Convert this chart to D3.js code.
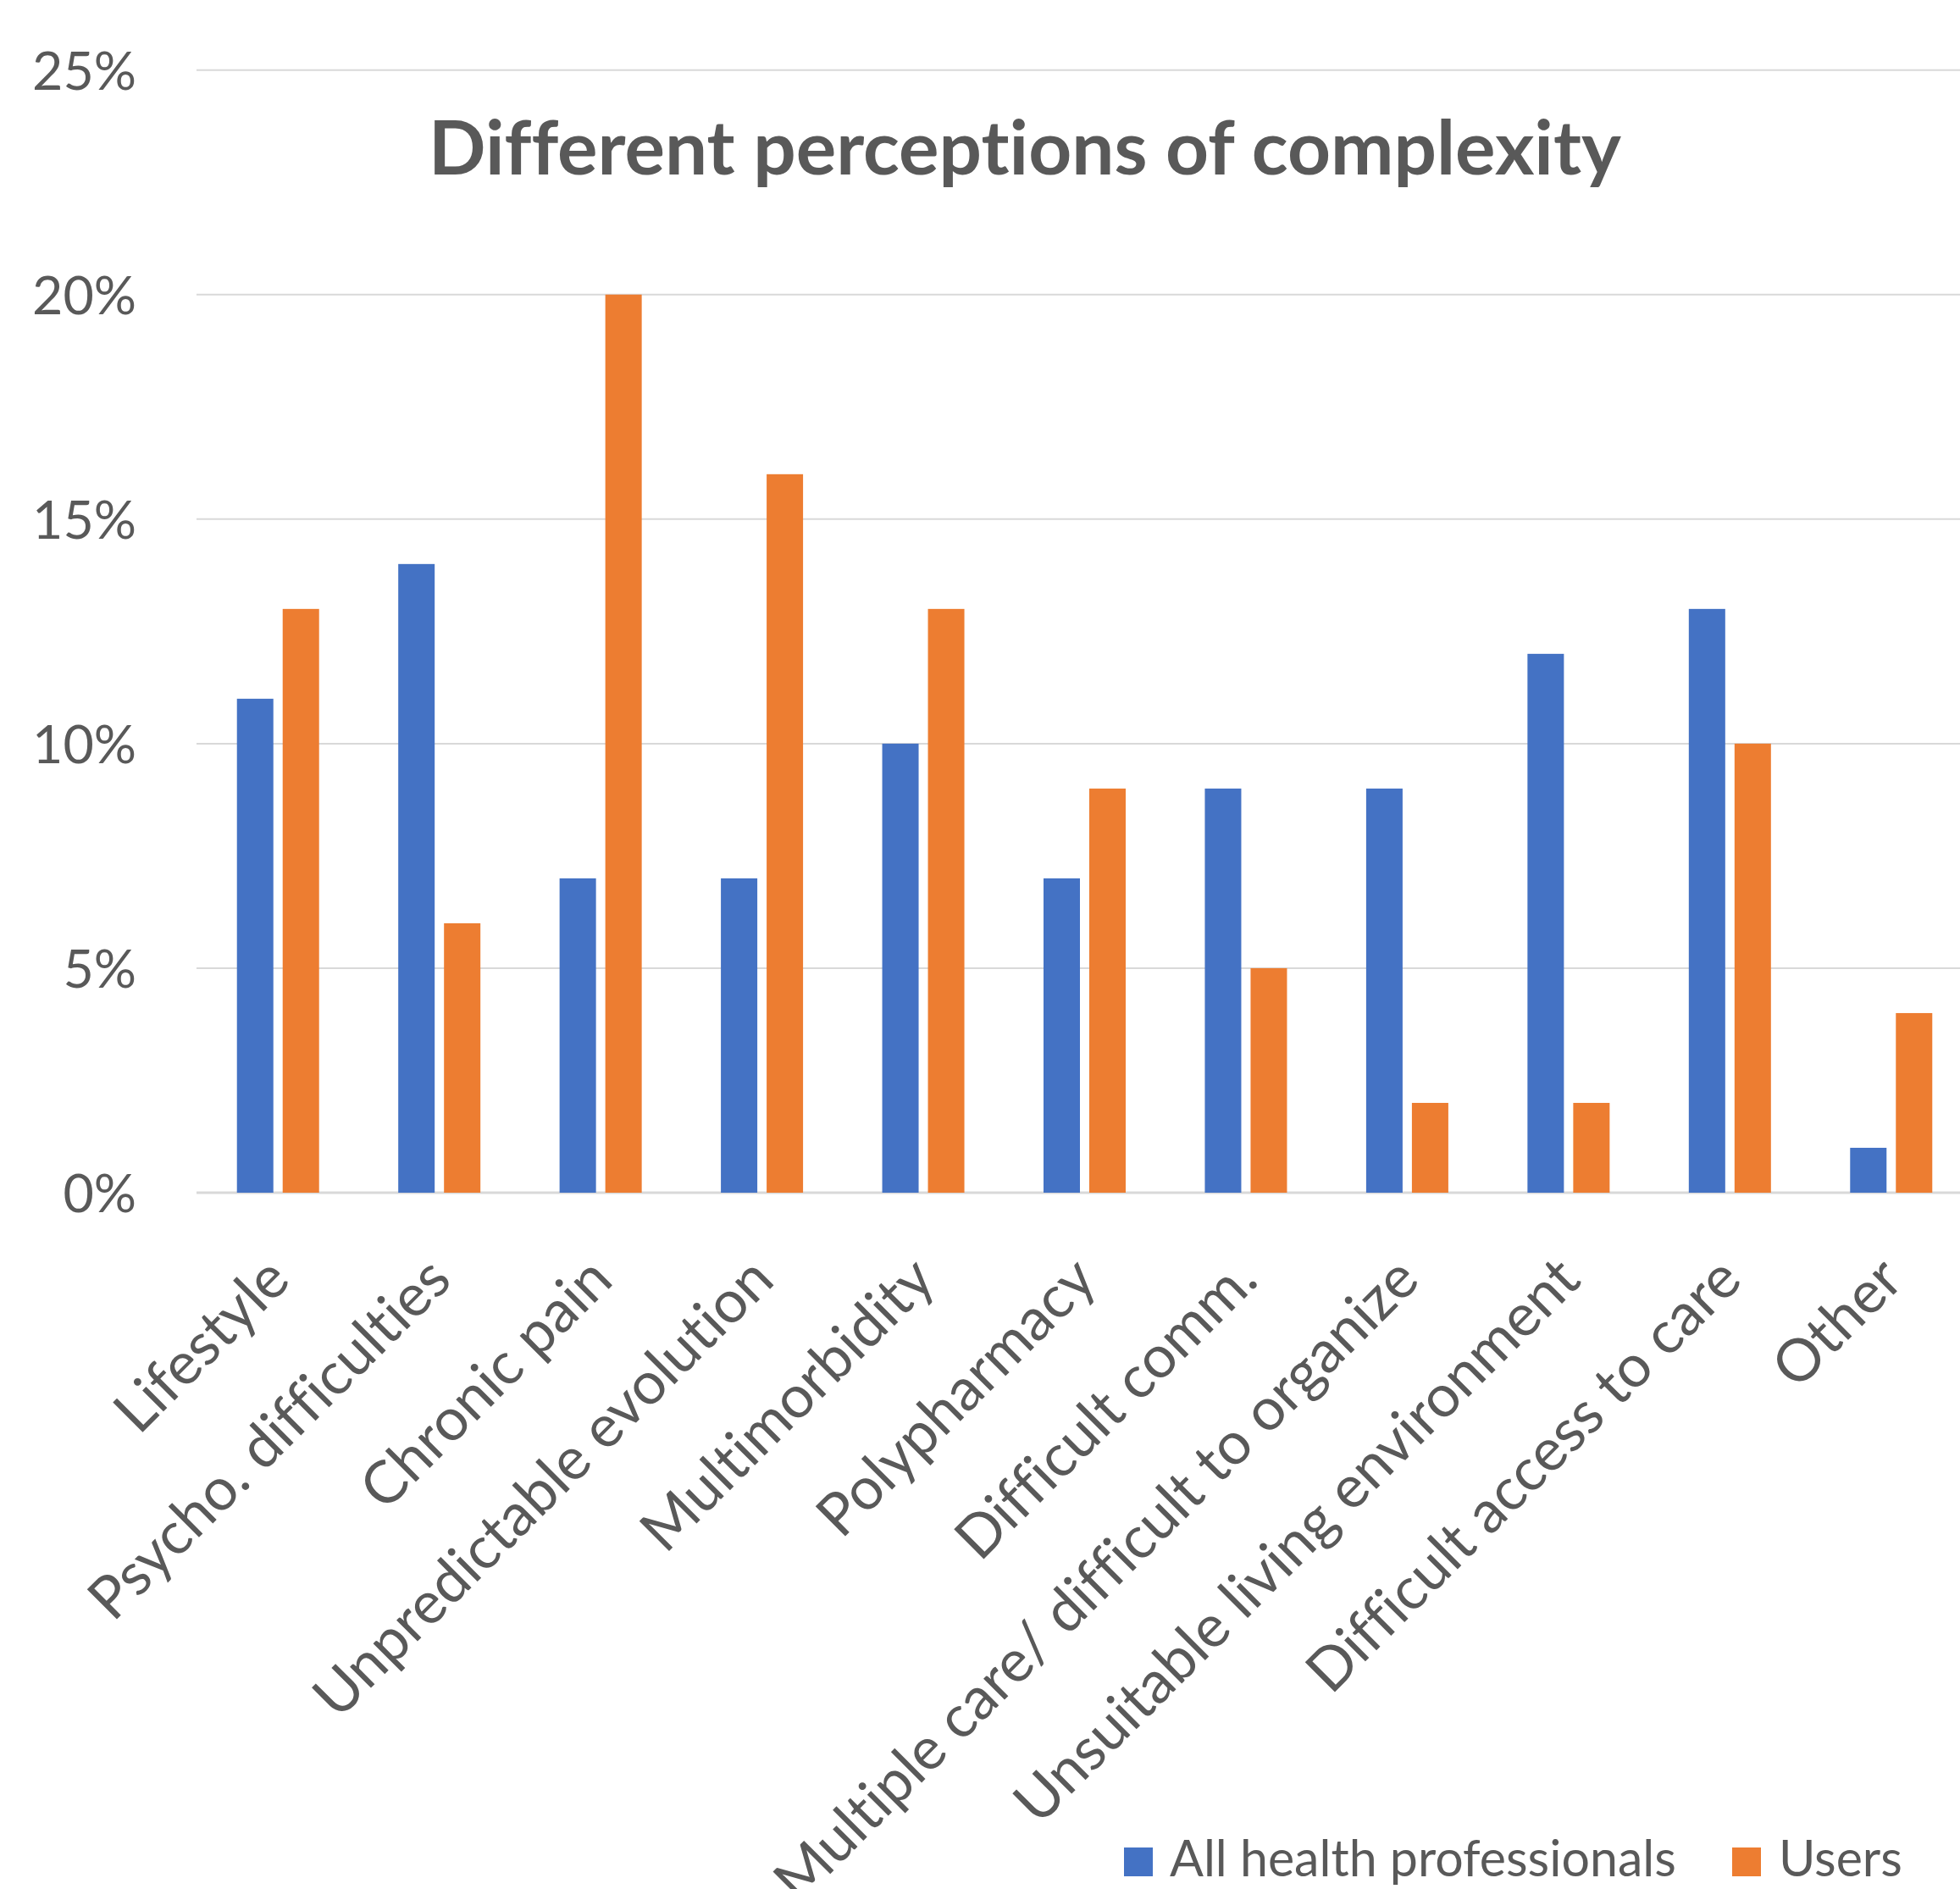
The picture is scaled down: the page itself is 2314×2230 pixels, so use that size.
<!DOCTYPE html>
<html>
<head>
<meta charset="utf-8">
<script src="https://cdn.jsdelivr.net/npm/d3@7"></script>
<style>
  html, body { margin: 0; padding: 0; background: #fff; }
  svg { display: block; }
  text { font-variant-ligatures: none; font-feature-settings: "liga" 0, "clig" 0, "dlig" 0; }
</style>
</head>
<body>
<script>
const categories = [
  "Lifestyle", "Psycho. difficulties", "Chronic pain", "Unpredictable evolution",
  "Multimorbidity", "Polypharmacy", "Difficult comm.", "Multiple care/ difficult to organize",
  "Unsuitable living environment", "Difficult access to care", "Other"
];
const healthPros = [11, 14, 7, 7, 10, 7, 9, 9, 12, 13, 1];
const users = [13, 6, 20, 16, 13, 9, 5, 2, 2, 10, 4];
const seriesNames = ["All health professionals", "Users"];
const tickValues = [0, 5, 10, 15, 20, 25];
const titleText = "Different perceptions of complexity";

const W = 2314, H = 2230;
const FONT = "Lato, 'Open Sans', sans-serif";
const TEXT = "#595959";
const COLORS = ["#4472C4", "#ED7D31"];

const svg = d3.select("body").append("svg")
  .attr("width", W).attr("height", H)
  .style("font-family", FONT);

function fitSize(str, weight, target) {
  const t = svg.append("text").attr("font-size", 100).attr("font-weight", weight).text(str);
  const len = t.node().getComputedTextLength();
  t.remove();
  return 100 * target / len;
}
const tickSize = fitSize("25%", 400, 123);
const labelSize = fitSize("Unpredictable evolution", 400, 732);
const legendSize = fitSize("All health professionals", 400, 598);
const titleSize = fitSize(titleText, 700, 1408);

const x = d3.scaleBand().domain(categories).range([233, 2328]).paddingInner(0).paddingOuter(0);
const y = d3.scaleLinear().domain([0, 25]).range([1408, 82.7]);

// gridlines
const grid = svg.append("g");
grid.selectAll("line").data(tickValues).join("line")
  .attr("x1", 232).attr("x2", W)
  .attr("y1", d => y(d)).attr("y2", d => y(d))
  .attr("stroke", "#d9d9d9").attr("stroke-width", d => d === 0 ? 3 : 2);

// y axis labels
const yAxis = svg.append("g").attr("transform", "translate(161,0)")
  .call(d3.axisLeft(y).tickValues(tickValues).tickSize(0).tickPadding(0).tickFormat(d => d + "%"));
yAxis.select(".domain").remove();
yAxis.selectAll("text")
  .attr("font-family", FONT).attr("font-size", tickSize).attr("fill", TEXT)
  .attr("x", 0).attr("dy", "0.36em");

// bars
const bw = 43, off = 27;
const barData = [];
categories.forEach((c, i) => {
  barData.push({ c, v: healthPros[i], s: 0 });
  barData.push({ c, v: users[i], s: 1 });
});
svg.append("g").selectAll("rect").data(barData).join("rect")
  .attr("x", d => x(d.c) + x.bandwidth() / 2 + (d.s === 0 ? -off : off) - bw / 2)
  .attr("width", bw)
  .attr("y", d => y(d.v))
  .attr("height", d => y(0) - y(d.v))
  .attr("fill", d => COLORS[d.s]);

// x axis labels
const xAxis = svg.append("g").attr("transform", "translate(0,1408)")
  .call(d3.axisBottom(x).tickSize(0).tickPadding(0));
xAxis.select(".domain").remove();
xAxis.selectAll(".tick").attr("transform", d => `translate(${x(d) + x.bandwidth() / 2},0)`);
xAxis.selectAll("text")
  .attr("font-family", FONT).attr("font-size", labelSize).attr("fill", TEXT)
  .attr("text-anchor", "end").attr("x", 0).attr("y", 0).attr("dy", 0)
  .attr("transform", "translate(17,106) rotate(-45)");

// title
svg.append("text")
  .attr("x", 1210).attr("y", 206)
  .attr("text-anchor", "middle")
  .attr("font-size", titleSize).attr("font-weight", 700).attr("fill", TEXT)
  .text(titleText);

// legend
const legendItems = [
  { name: seriesNames[0], color: COLORS[0], sx: 1327, tx: 1381 },
  { name: seriesNames[1], color: COLORS[1], sx: 2045, tx: 2100 }
];
const lg = svg.append("g");
legendItems.forEach(it => {
  lg.append("rect").attr("x", it.sx).attr("y", 2181).attr("width", 34).attr("height", 34).attr("fill", it.color);
  lg.append("text").attr("x", it.tx).attr("y", 2215)
    .attr("font-size", legendSize).attr("fill", TEXT).text(it.name);
});
</script>
</body>
</html>
